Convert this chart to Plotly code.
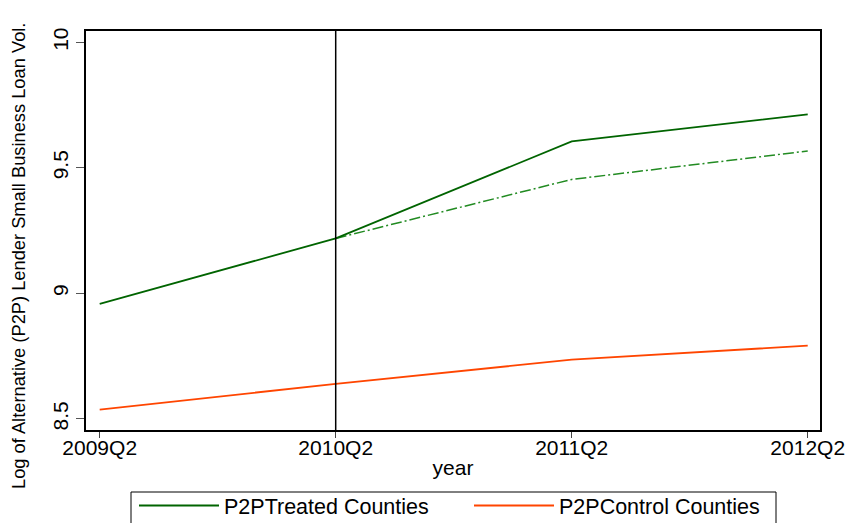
import plotly.graph_objects as go

# Quarters on the x axis and the quarter when the P2P treatment begins
quarters = ["2009Q2", "2010Q2", "2011Q2", "2012Q2"]
event_quarter = "2010Q2"

# Log of alternative (P2P) lender small business loan volume
treated = [8.958, 9.219, 9.605, 9.713]
control = [8.537, 8.640, 8.736, 8.792]
# Counterfactual path for treated counties after the event
counterfactual_quarters = ["2010Q2", "2011Q2", "2012Q2"]
counterfactual = [9.219, 9.454, 9.567]

y_ticks = [8.5, 9, 9.5, 10]
y_tick_text = ["8.5", "9", "9.5", "10"]

FONT = "Liberation Sans, Arial, Helvetica, sans-serif"
GREEN = "#006400"
LIGHT_GREEN = "#228B22"
ORANGE = "#FF4500"

W, H = 845, 523
M = dict(l=86, r=25, t=31, b=93)
PLOT_W = W - M["l"] - M["r"]
PLOT_H = H - M["t"] - M["b"]


def px_x(px):
    """Horizontal pixel position -> paper coordinate."""
    return (px - M["l"]) / PLOT_W


def px_y(py):
    """Vertical pixel position (from top) -> paper coordinate."""
    return (H - M["b"] - py) / PLOT_H


xi = {q: i for i, q in enumerate(quarters)}

fig = go.Figure()

fig.add_trace(go.Scatter(
    x=[xi[q] for q in counterfactual_quarters], y=counterfactual,
    mode="lines", line=dict(color=LIGHT_GREEN, width=1.5, dash="11px,3px,2px,3px"),
    showlegend=False, hoverinfo="skip",
))
fig.add_trace(go.Scatter(
    x=[xi[q] for q in quarters], y=treated, mode="lines",
    name="P2PTreated Counties", line=dict(color=GREEN, width=1.8),
))
fig.add_trace(go.Scatter(
    x=[xi[q] for q in quarters], y=control, mode="lines",
    name="P2PControl Counties", line=dict(color=ORANGE, width=1.8),
))

# Vertical reference line at the event quarter
fig.add_shape(type="line", xref="x", yref="y domain",
              x0=xi[event_quarter], x1=xi[event_quarter], y0=0, y1=1,
              line=dict(color="black", width=1.5), layer="above")

# Frame around the legend (open at the bottom edge of the page)
fig.add_shape(type="rect", xref="paper", yref="paper",
              x0=px_x(131), x1=px_x(776), y0=px_y(530), y1=px_y(492),
              line=dict(color="black", width=1), fillcolor="rgba(0,0,0,0)")

fig.update_layout(
    width=W, height=H,
    margin=dict(**M, autoexpand=False),
    paper_bgcolor="white", plot_bgcolor="white",
    font=dict(family=FONT, size=21, color="black"),
    showlegend=True,
    legend=dict(
        orientation="h", x=px_x(134), xanchor="left", y=px_y(485), yanchor="top",
        borderwidth=0, bgcolor="rgba(0,0,0,0)",
        font=dict(size=21.5), itemwidth=80, entrywidth=240,
        traceorder="normal",
    ),
    xaxis=dict(
        tickmode="array", tickvals=list(range(len(quarters))), ticktext=quarters,
        range=[-0.058, 3.052], showgrid=False, zeroline=False,
        showline=True, linecolor="black", linewidth=1.5, mirror=True,
        ticks="outside", ticklen=6, tickcolor="#444", tickwidth=1,
        tickfont=dict(size=21), ticklabeloverflow="allow", ticklabelstandoff=-8,
        title=dict(text="year", font=dict(size=21), standoff=2),
    ),
    yaxis=dict(
        tickmode="array", tickvals=y_ticks, ticktext=y_tick_text,
        range=[8.456, 10.045], showgrid=False, zeroline=False,
        showline=True, linecolor="black", linewidth=1.5, mirror=True,
        ticks="outside", ticklen=8, tickcolor="#555", tickwidth=1,
        tickangle=-90, tickfont=dict(size=21),
        title=dict(text=""),
    ),
    annotations=[dict(
        text="Log of Alternative (P2P) Lender Small Business Loan Vol.",
        xref="paper", yref="paper", x=px_x(18), y=px_y(256),
        xanchor="center", yanchor="middle",
        textangle=-90, showarrow=False, font=dict(size=18.3, family=FONT),
    )],
)

fig.write_html("out.html")
